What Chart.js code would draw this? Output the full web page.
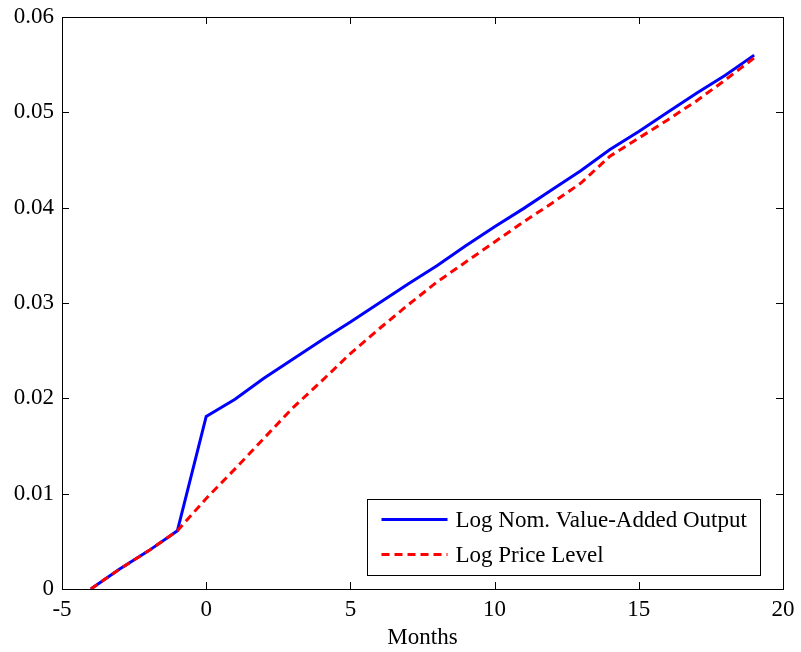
<!DOCTYPE html>
<html>
<head>
<meta charset="utf-8">
<script src="https://cdn.jsdelivr.net/npm/chart.js@4.4.0/dist/chart.umd.min.js"></script>
<style>
html,body{margin:0;padding:0;background:#fff;}
#wrap{width:801px;height:652px;}
</style>
</head>
<body>
<div id="wrap"><canvas id="c" width="801" height="652"></canvas></div>
<script>
const months = [-4,-3,-2,-1,0,1,2,3,4,5,6,7,8,9,10,11,12,13,14,15,16,17,18,19];
const nominalOutput = [0,0.0021,0.0040,0.0061,0.0181,0.0199,0.0221,0.0241,0.0261,0.0280,0.0300,0.0320,0.0339,0.0360,0.0380,0.0399,0.0419,0.0439,0.0461,0.0480,0.0500,0.0520,0.0539,0.0560];
const priceLevel = [0,0.0021,0.0040,0.0061,0.0095,0.0126,0.0158,0.0190,0.0218,0.0247,0.0273,0.0298,0.0322,0.0343,0.0364,0.0385,0.0405,0.0426,0.0454,0.0473,0.0492,0.0512,0.0534,0.0557];
const xTicks = [-5,0,5,10,15,20];
const yTicks = [0,0.01,0.02,0.03,0.04,0.05,0.06];
const seriesLabels = ['Log Nom. Value-Added Output','Log Price Level'];
const xTitle = 'Months';

const FONT = 'Liberation Serif, Times New Roman, serif';
const FS = 23;

const framePlugin = {
  id: 'frame',
  afterDatasetsDraw(chart) {
    const ctx = chart.ctx;
    const a = chart.chartArea;
    const xs = chart.scales.x, ys = chart.scales.y;
    ctx.save();
    ctx.strokeStyle = '#000';
    ctx.lineWidth = 1;
    const tl = 7;
    ctx.beginPath();
    xTicks.forEach(v => {
      const px = Math.round(xs.getPixelForValue(v)) + 0.5;
      ctx.moveTo(px, a.bottom); ctx.lineTo(px, a.bottom - tl);
      ctx.moveTo(px, a.top); ctx.lineTo(px, a.top + tl);
    });
    yTicks.forEach(v => {
      const py = Math.round(ys.getPixelForValue(v)) + 0.5;
      ctx.moveTo(a.left, py); ctx.lineTo(a.left + tl, py);
      ctx.moveTo(a.right, py); ctx.lineTo(a.right - tl, py);
    });
    ctx.stroke();
    ctx.strokeRect(Math.round(a.left) + 0.5, Math.round(a.top) + 0.5, Math.round(a.right - a.left), Math.round(a.bottom - a.top));

    // legend
    const bw = 393, bh = 76;
    const bx = Math.round(a.right - 23 - bw) + 0.5;
    const by = Math.round(a.bottom - 14 - bh) + 0.5;
    ctx.fillStyle = '#fff';
    ctx.fillRect(bx, by, bw, bh);
    ctx.strokeStyle = '#000';
    ctx.lineWidth = 1;
    ctx.strokeRect(bx, by, bw, bh);
    const rows = [by + 20, by + 55];
    seriesLabels.forEach((lbl, i) => {
      const ds = chart.data.datasets[i];
      ctx.beginPath();
      ctx.strokeStyle = ds.borderColor;
      ctx.lineWidth = ds.borderWidth;
      ctx.setLineDash(ds.borderDash || []);
      ctx.moveTo(bx + 14, rows[i]);
      ctx.lineTo(bx + 80, rows[i]);
      ctx.stroke();
      ctx.setLineDash([]);
      ctx.fillStyle = '#000';
      ctx.font = FS + 'px ' + FONT;
      ctx.textAlign = 'left';
      ctx.textBaseline = 'middle';
      ctx.fillText(lbl, bx + 88, rows[i] + 1);
    });
    ctx.restore();
  }
};

new Chart(document.getElementById('c'), {
  type: 'line',
  data: {
    datasets: [
      {
        label: seriesLabels[0],
        data: months.map((m, i) => ({x: m, y: nominalOutput[i]})),
        borderColor: '#0000ff',
        borderWidth: 3,
        pointRadius: 0,
        tension: 0,
        fill: false,
        order: 2
      },
      {
        label: seriesLabels[1],
        data: months.map((m, i) => ({x: m, y: priceLevel[i]})),
        borderColor: '#ff0000',
        borderWidth: 3,
        borderDash: [8, 5],
        pointRadius: 0,
        tension: 0,
        fill: false,
        order: 1
      }
    ]
  },
  plugins: [framePlugin],
  options: {
    responsive: false,
    animation: false,
    layout: { padding: { left: 0, right: 18, top: 17, bottom: 0 } },
    plugins: { legend: { display: false }, tooltip: { enabled: false } },
    scales: {
      x: {
        type: 'linear',
        min: -5, max: 20,
        afterBuildTicks: s => { s.ticks = xTicks.map(v => ({value: v})); },
        afterFit: s => { s.height = 63; s.paddingLeft = 0; s.paddingRight = 0; },
        grid: { display: false, drawTicks: false },
        border: { display: false },
        ticks: { color: '#000', font: { family: FONT, size: FS }, padding: 7, maxRotation: 0,
                 callback: v => String(v) },
        title: { display: true, text: xTitle, color: '#000', font: { family: FONT, size: FS }, padding: { top: 0, bottom: 0 } }
      },
      y: {
        type: 'linear',
        min: 0, max: 0.06,
        afterBuildTicks: s => { s.ticks = yTicks.map(v => ({value: v})); },
        afterFit: s => { s.width = 62; s.paddingTop = 0; s.paddingBottom = 0; },
        grid: { display: false, drawTicks: false },
        border: { display: false },
        ticks: { color: '#000', font: { family: FONT, size: FS }, padding: 8,
                 callback: v => v === 0 ? '0' : v.toFixed(2) }
      }
    }
  }
});
</script>
</body>
</html>
